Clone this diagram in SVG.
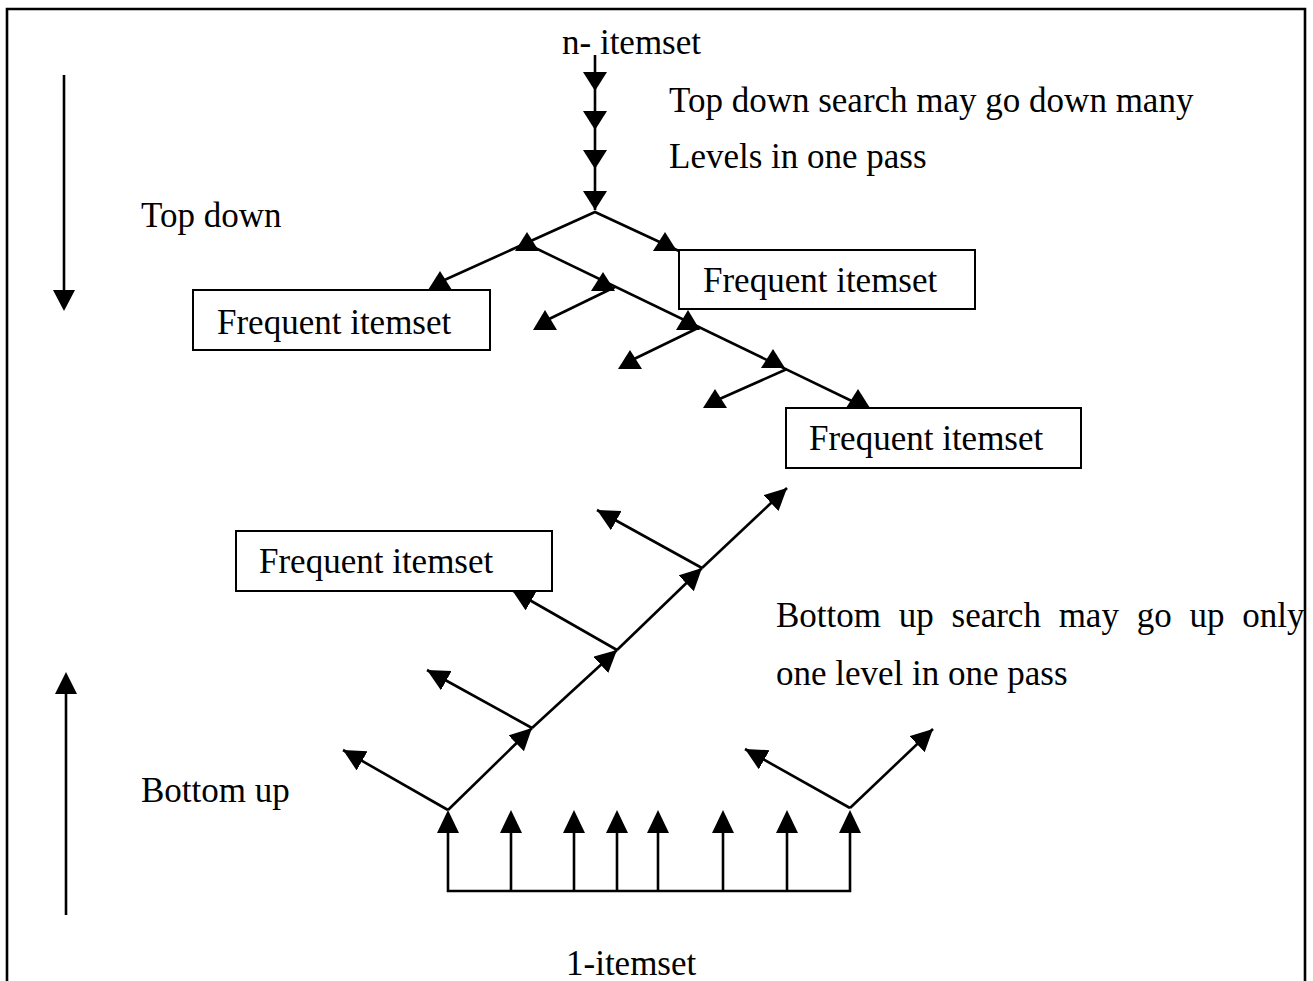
<svg xmlns="http://www.w3.org/2000/svg" width="1313" height="981" viewBox="0 0 1313 981">
<style>
text{font-family:"Liberation Serif","Times New Roman",serif;font-size:35px;fill:#000}
.ln{stroke:#000;stroke-width:2.6;fill:none}
.box{fill:#fff;stroke:#000;stroke-width:2}
.tri{fill:#000}
</style>
<defs>
<marker id="ah" markerUnits="userSpaceOnUse" markerWidth="24" markerHeight="24" refX="22" refY="11" orient="auto" viewBox="0 0 24 24">
<path d="M0,0 L22,11 L0,22 z" fill="#000"/>
</marker>
</defs>
<rect width="1313" height="981" fill="#fff"/>
<path d="M7,981 V9 H1305 V981" class="ln" stroke-width="3"/>

<g id="labels">
<text x="562" y="54">n- itemset</text>
<text x="669" y="112">Top down search may go down many</text>
<text x="669" y="168">Levels in one pass</text>
<text x="141" y="227">Top down</text>
<text x="776" y="627" word-spacing="9">Bottom up search may go up only</text>
<text x="776" y="685">one level in one pass</text>
<text x="141" y="802">Bottom up</text>
<text x="566" y="975">1-itemset</text>
</g>

<g id="connectors">
<line class="ln" x1="595" y1="55" x2="595" y2="210"/>
<polygon class="tri" points="583,72 607,72 595,91"/>
<polygon class="tri" points="583,111 607,111 595,130"/>
<polygon class="tri" points="583,150 607,150 595,169"/>
<polygon class="tri" points="583,191 607,191 595,210"/>
<polyline class="ln" points="440,282 595,212 679,251"/>
<line class="ln" x1="527" y1="244" x2="858" y2="404"/>
<line class="ln" x1="615" y1="287" x2="545" y2="321"/>
<line class="ln" x1="700" y1="327" x2="630" y2="361"/>
<line class="ln" x1="787" y1="369" x2="715" y2="401"/>
<polygon class="tri" points="527,232 515,251 539,251"/>
<polygon class="tri" points="665,232 653,251 677,251"/>
<polygon class="tri" points="440,271 428,290 452,290"/>
<polygon class="tri" points="603,272 591,291 615,291"/>
<polygon class="tri" points="545,310 533,330 557,330"/>
<polygon class="tri" points="688,310 676,330 700,330"/>
<polygon class="tri" points="630,350 618,369 642,369"/>
<polygon class="tri" points="773,349 761,368 785,368"/>
<polygon class="tri" points="715,389 703,408 727,408"/>
<polygon class="tri" points="858,389 846,408 870,408"/>
<line class="ln" x1="64" y1="75" x2="64" y2="295"/>
<polygon class="tri" points="53,290 75,290 64,311"/>
<line class="ln" x1="66" y1="915" x2="66" y2="690"/>
<polygon class="tri" points="55,694 77,694 66,672"/>
<polyline class="ln" points="448,832 448,891 850,891 850,832" stroke-width="3"/>
<line class="ln" x1="511" y1="891" x2="511" y2="832"/>
<line class="ln" x1="574" y1="891" x2="574" y2="832"/>
<line class="ln" x1="617" y1="891" x2="617" y2="832"/>
<line class="ln" x1="658" y1="891" x2="658" y2="832"/>
<line class="ln" x1="723" y1="891" x2="723" y2="832"/>
<line class="ln" x1="787" y1="891" x2="787" y2="832"/>
<polygon class="tri" points="437,833 459,833 448,810"/>
<polygon class="tri" points="500,833 522,833 511,810"/>
<polygon class="tri" points="563,833 585,833 574,810"/>
<polygon class="tri" points="606,833 628,833 617,810"/>
<polygon class="tri" points="647,833 669,833 658,810"/>
<polygon class="tri" points="712,833 734,833 723,810"/>
<polygon class="tri" points="776,833 798,833 787,810"/>
<polygon class="tri" points="839,833 861,833 850,810"/>
<line class="ln" x1="448" y1="810" x2="532" y2="728" marker-end="url(#ah)"/>
<line class="ln" x1="532" y1="728" x2="617" y2="650" marker-end="url(#ah)"/>
<line class="ln" x1="617" y1="650" x2="702" y2="568" marker-end="url(#ah)"/>
<line class="ln" x1="702" y1="568" x2="787" y2="488" marker-end="url(#ah)"/>
<line class="ln" x1="448" y1="810" x2="343" y2="750" marker-end="url(#ah)"/>
<line class="ln" x1="532" y1="728" x2="427" y2="670" marker-end="url(#ah)"/>
<line class="ln" x1="617" y1="650" x2="512" y2="590" marker-end="url(#ah)"/>
<line class="ln" x1="702" y1="568" x2="597" y2="510" marker-end="url(#ah)"/>
<line class="ln" x1="850" y1="808" x2="745" y2="749" marker-end="url(#ah)"/>
<line class="ln" x1="850" y1="808" x2="933" y2="729" marker-end="url(#ah)"/>
</g>

<g id="fi-left">
<rect class="box" x="193" y="290" width="297" height="60"/>
<text x="217" y="334">Frequent itemset</text>
</g>
<g id="fi-right">
<rect class="box" x="679" y="250" width="296" height="59"/>
<text x="703" y="292">Frequent itemset</text>
</g>
<g id="fi-lower">
<rect class="box" x="786" y="408" width="295" height="60"/>
<text x="809" y="450">Frequent itemset</text>
</g>
<g id="fi-bottom">
<rect class="box" x="236" y="531" width="316" height="60"/>
<text x="259" y="573">Frequent itemset</text>
</g>
</svg>
